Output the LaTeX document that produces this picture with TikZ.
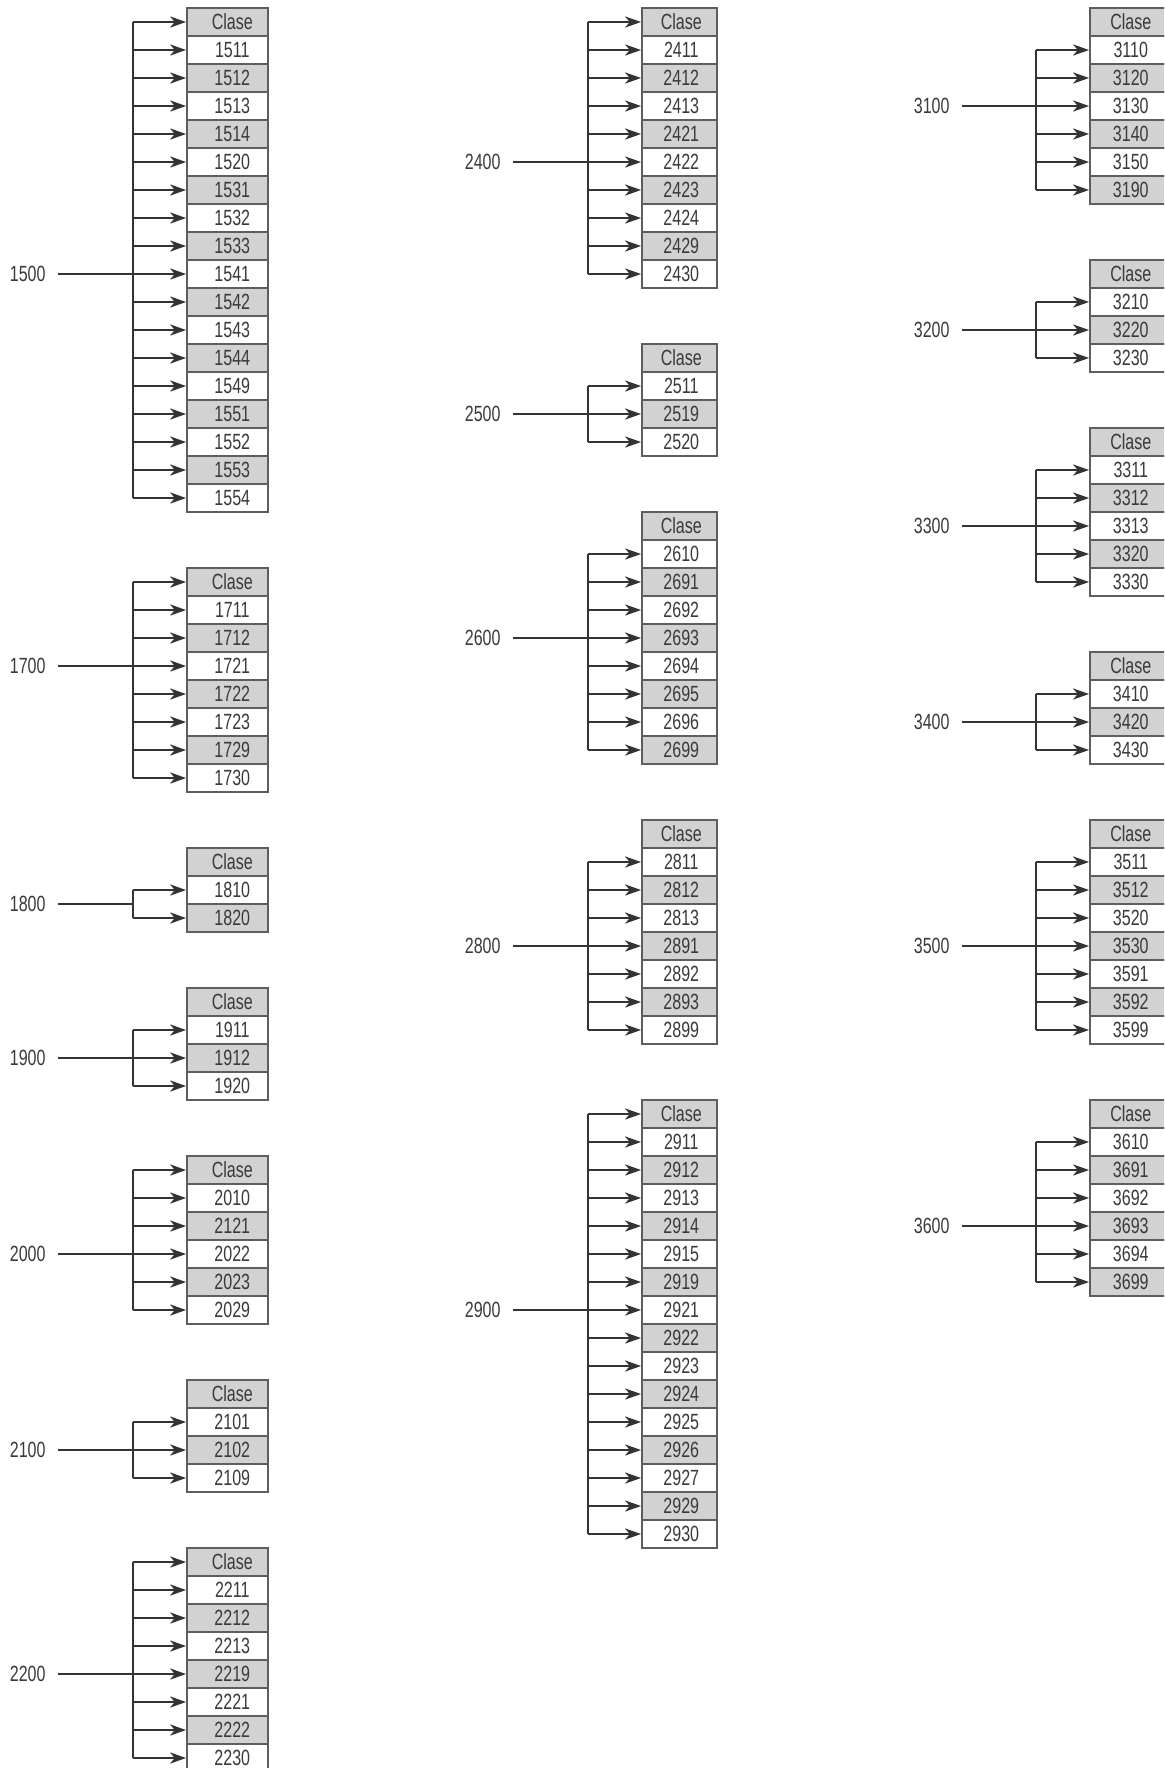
\documentclass[tikz,border=0pt]{standalone}
\usepackage{fontspec}
\setmainfont{Liberation Sans}[FakeStretch=0.73]
\usetikzlibrary{arrows.meta}
\definecolor{fillg}{HTML}{D2D2D2}
\definecolor{linec}{HTML}{333333}
\definecolor{boxc}{HTML}{5E5E5E}
\definecolor{txtc}{HTML}{3A3A3A}
\tikzset{
  cell/.style={draw=boxc, line width=0.8pt, minimum width=\cellw, minimum height=14pt,
    inner sep=0pt, font=\fontsize{11}{12}\selectfont, text=txtc, anchor=west},
  lab/.style={anchor=east, inner xsep=6pt, inner ysep=0pt,
    font=\fontsize{11}{12}\selectfont, text=txtc},
  conn/.style={draw=linec, line width=0.7pt},
  arr/.style={conn, -{Stealth[length=8pt,width=5.6pt,inset=2.4pt]}}
}
\newcommand\mkgroup[5]{%
  \pgfmathsetmacro\yc{8+28*#1+14}%
  \node[cell,fill=fillg] (g#2-0) at (\bx,\yc) {\hspace*{\tsh}Clase};
  \foreach \r [count=\i] in {#5}{%
    \pgfmathtruncatemacro\m{mod(\i,2)}%
    \ifnum\m=0
      \node[cell,fill=fillg] (g#2-\i) at (\bx,\yc+28*\i) {\hspace*{\tsh}\r};
    \else
      \node[cell,fill=white] (g#2-\i) at (\bx,\yc+28*\i) {\hspace*{\tsh}\r};
    \fi
    \xdef\nlast{\i}%
  }%
  \foreach \i in {#4,...,\nlast}{%
    \coordinate (g#2-b\i) at (\vx,\yc+28*\i);
    \draw[arr] (g#2-b\i) -- (g#2-\i.west);
  }%
  \draw[conn] (g#2-b#4) -- (g#2-b\nlast);
  \node[lab] (g#2-l) at (\ls,\yc+28*#3) {#2};
  \coordinate (g#2-j) at (\vx,\yc+28*#3);
  \draw[conn] (g#2-l.east) -- (g#2-j);
}
\begin{document}
\begin{tikzpicture}[x=0.5pt,y=-0.5pt]
\useasboundingbox (0,0) rectangle (1164,1768);
\clip (0,0) rectangle (1164,1768);
% column 1
\def\bx{186}\def\vx{133}\def\ls{58}\def\cellw{40.5pt}\def\tsh{5pt}
\mkgroup{0}{1500}{9}{0}{1511,1512,1513,1514,1520,1531,1532,1533,1541,1542,1543,1544,1549,1551,1552,1553,1554}
\mkgroup{20}{1700}{3}{0}{1711,1712,1721,1722,1723,1729,1730}
\mkgroup{30}{1800}{1.5}{1}{1810,1820}
\mkgroup{35}{1900}{2}{1}{1911,1912,1920}
\mkgroup{41}{2000}{3}{0}{2010,2121,2022,2023,2029}
\mkgroup{49}{2100}{2}{1}{2101,2102,2109}
\mkgroup{55}{2200}{4}{0}{2211,2212,2213,2219,2221,2222,2230}
% column 2
\def\bx{641}\def\vx{588}\def\ls{513}\def\cellw{37.5pt}\def\tsh{2pt}
\mkgroup{0}{2400}{5}{0}{2411,2412,2413,2421,2422,2423,2424,2429,2430}
\mkgroup{12}{2500}{2}{1}{2511,2519,2520}
\mkgroup{18}{2600}{4}{1}{2610,2691,2692,2693,2694,2695,2696,2699}
\mkgroup{29}{2800}{4}{1}{2811,2812,2813,2891,2892,2893,2899}
\mkgroup{39}{2900}{7}{0}{2911,2912,2913,2914,2915,2919,2921,2922,2923,2924,2925,2926,2927,2929,2930}
% column 3
\def\bx{1089}\def\vx{1036}\def\ls{962}\def\cellw{39pt}\def\tsh{2pt}
\mkgroup{0}{3100}{3}{1}{3110,3120,3130,3140,3150,3190}
\mkgroup{9}{3200}{2}{1}{3210,3220,3230}
\mkgroup{15}{3300}{3}{1}{3311,3312,3313,3320,3330}
\mkgroup{23}{3400}{2}{1}{3410,3420,3430}
\mkgroup{29}{3500}{4}{1}{3511,3512,3520,3530,3591,3592,3599}
\mkgroup{39}{3600}{4}{1}{3610,3691,3692,3693,3694,3699}
\end{tikzpicture}
\end{document}
